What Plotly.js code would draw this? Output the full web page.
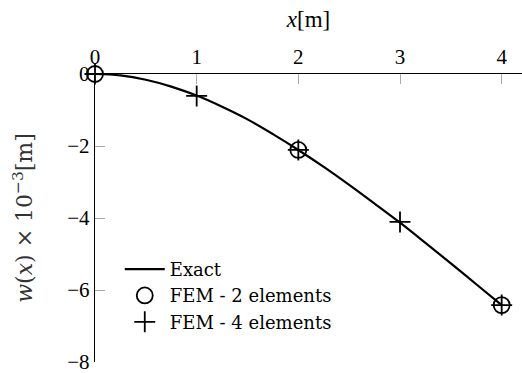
<!DOCTYPE html>
<html>
<head>
<meta charset="utf-8">
<script src="https://cdn.plot.ly/plotly-3.0.1.min.js"></script>
<style>html,body{margin:0;padding:0;background:#fff;}#chart{width:522px;height:373px;}</style>
</head>
<body>
<div id="chart"></div>
<script>
// Exact solution
const exactX = [0, 0.25, 0.5, 0.75, 1, 1.25, 1.5, 1.75, 2, 2.25, 2.5, 2.75, 3, 3.25, 3.5, 3.75, 4];
const exactW = [0, -0.04, -0.16, -0.35, -0.60, -0.91, -1.26, -1.67, -2.11, -2.58, -3.08, -3.60, -4.13, -4.69, -5.26, -5.84, -6.42];
// FEM 2 elements
const fem2X = [0, 2, 4];
const fem2W = [0, -2.11, -6.42];
// FEM 4 elements
const fem4X = [0, 1, 2, 3, 4];
const fem4W = [0, -0.61, -2.11, -4.11, -6.42];

const xTicks = [0, 1, 2, 3, 4];
const yTicks = [-8, -6, -4, -2, 0];
const yTickText = ['\u22128', '\u22126', '\u22124', '\u22122', '0'];

const tickFont = 'Liberation Serif';
const textFont = 'DejaVu Serif';

const traces = [
  {x: exactX, y: exactW, mode: 'lines', name: 'Exact', legendgroup: 'a', cliponaxis: false,
   line: {color: '#000', width: 2.2, shape: 'spline'}},
  {x: fem2X, y: fem2W, mode: 'markers', name: 'FEM - 2 elements', legendgroup: 'b', cliponaxis: false,
   marker: {symbol: 'circle-open', size: 16, color: '#000', line: {width: 1.8, color: '#000'}}},
  {x: fem4X, y: fem4W, mode: 'markers', name: 'FEM - 4 elements', legendgroup: 'c', cliponaxis: false,
   marker: {symbol: 'cross-thin-open', size: 15, color: '#000', line: {width: 1.8, color: '#000'}}}
];

const layout = {
  width: 522, height: 373,
  margin: {l: 95, r: 0, t: 74, b: 11},
  paper_bgcolor: '#fff', plot_bgcolor: '#fff',
  font: {family: tickFont, color: '#000', size: 20},
  showlegend: true,
  legend: {x: 0.058, y: 0.386, xanchor: 'left', yanchor: 'top', bgcolor: 'rgba(0,0,0,0)',
           font: {family: textFont, size: 18, color: '#000'}, traceorder: 'grouped', tracegroupgap: 0,
           itemwidth: 40},
  xaxis: {
    side: 'top', range: [0, 4.2], tickvals: xTicks, ticktext: xTicks.map(String),
    ticks: 'inside', ticklen: 10, tickcolor: '#aaa', tickwidth: 1,
    showline: true, linecolor: '#000', linewidth: 1.2, showgrid: false, zeroline: false,
    title: {text: '<i>x</i>[m]', font: {family: tickFont, size: 23}, standoff: 11},
    tickfont: {family: tickFont, size: 21}, ticklabeloverflow: 'allow'
  },
  yaxis: {
    range: [-8, 0], tickvals: yTicks, ticktext: yTickText,
    ticks: 'inside', ticklen: 10, tickcolor: '#aaa', tickwidth: 1,
    showline: true, linecolor: '#000', linewidth: 1.2, showgrid: false, zeroline: false,
    title: {text: '<i>w</i>(<i>x</i>) × 10<sup>−3</sup>[m]', font: {family: textFont, size: 22, color: '#333'}, standoff: 28},
    tickfont: {family: tickFont, size: 21}, ticklabeloverflow: 'allow'
  }
};

Plotly.newPlot('chart', traces, layout, {staticPlot: true, displayModeBar: false});
</script>
</body>
</html>
